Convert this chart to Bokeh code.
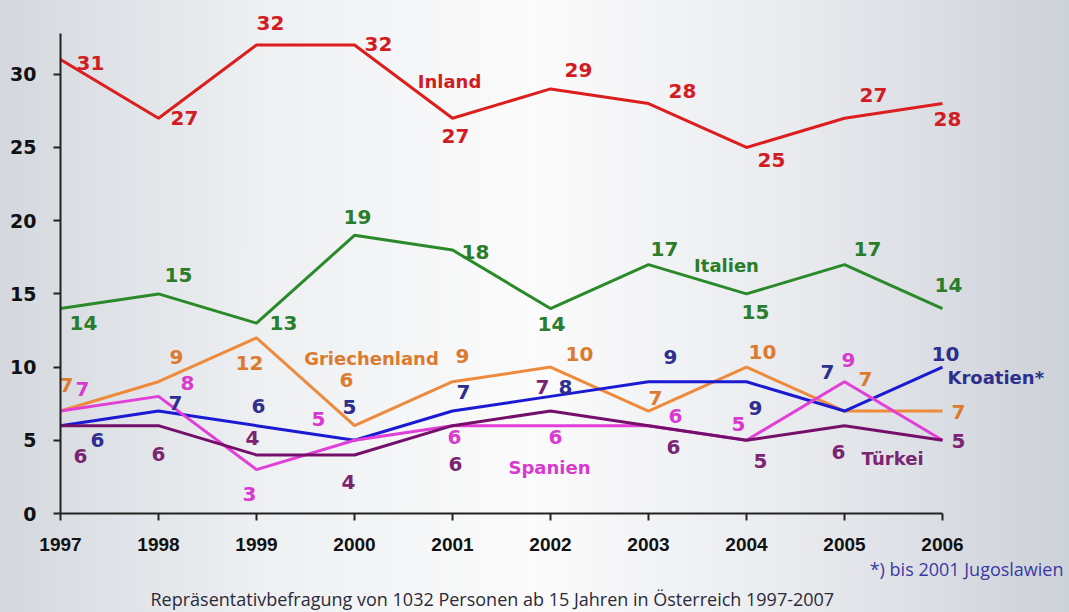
from bokeh.plotting import figure
from bokeh.models import ColumnDataSource, Range1d, FixedTicker, Title
from bokeh.core.properties import value
from bokeh.embed import file_html
from bokeh.resources import INLINE

# ---------------- data ----------------
years = [1997, 1998, 1999, 2000, 2001, 2002, 2003, 2004, 2005, 2006]
inland = [31, 27, 32, 32, 27, 29, 28, 25, 27, 28]
italien = [14, 15, 13, 19, 18, 14, 17, 15, 17, 14]
griechenland = [7, 9, 12, 6, 9, 10, 7, 10, 7, 7]
kroatien = [6, 7, 6, 5, 7, 8, 9, 9, 7, 10]
spanien = [7, 8, 3, 5, 6, 6, 6, 5, 9, 5]
tuerkei = [6, 6, 4, 4, 6, 7, 6, 5, 6, 5]
series_names = ["Inland", "Italien", "Griechenland", "Kroatien*", "Spanien", "Türkei"]
y_ticks = [0, 5, 10, 15, 20, 25, 30]
footnote = "*) bis 2001 Jugoslawien"
source_note = "Repräsentativbefragung von 1032 Personen ab 15 Jahren  in Österreich 1997-2007"

# ---------------- styles / label placement (pixels) ----------------
line_colors = ["#dc1e1e", "#2a8a2a", "#ee8a3c", "#1a1ad2", "#e23ed8", "#74106a"]
label_colors = ["#d21c24", "#2a7d2a", "#dc7a30", "#2e2e8e", "#d83ad0", "#7a2472"]
value_offsets = [
    [(30, 3), (26, 0), (14, -22), (24, -1), (3, 18), (28, -19), (34, -13), (25, 13), (29, -23), (5, 15)],
    [(23, 14), (20, -19), (27, 0), (3, -18), (23, 2), (1, 15), (16, -16), (9, 18), (23, -16), (6, -24)],
    [(6, -26), (18, -25), (-7, 25), (-8, -46), (10, -26), (29, -13), (7, -13), (16, -15), (21, -32), (16, 1)],
    [(37, 14), (17, -8), (2, -20), (-5, -33), (11, -19), (15, -9), (22, -25), (9, 26), (-17, -39), (3, -13)],
    [(22, -22), (29, -13), (-7, 24), (-36, -21), (2, 11), (5, 11), (27, -10), (-8, -16), (4, -22), None],
    [(20, 30), (0, 28), (-4, -17), (-6, 27), (3, 38), (-8, -24), (25, 21), (14, 21), (-6, 26), (16, 1)],
]
# series name: (anchor index, dx, dy, align)
name_places = [(4, -3, -37, "center"), (6, 78, 1, "center"), (4, -81, -23, "center"),
               (9, 5, 10, "left"), (5, -1, 42, "center"), (8, 48, 33, "center")]

all_series = [inland, italien, griechenland, kroatien, spanien, tuerkei]

p = figure(width=1069, height=612, output_backend="svg", toolbar_location=None,
           x_range=Range1d(1997, 2007.296), y_range=Range1d(0, 35.04),
           min_border_left=60, min_border_right=0, min_border_top=0, min_border_bottom=0,
           background_fill_alpha=0, border_fill_alpha=0, outline_line_color=None)
p.styles = {"background": "linear-gradient(to right, #d4d8de 0%, #eef0f2 25%, #fbfbfb 50%, #e8eaee 75%, #cdd1d8 100%)"}
p.xgrid.visible = False
p.ygrid.visible = False

for vals, lc in zip(all_series, line_colors):
    p.line(years, vals, line_color=lc, line_width=3)

for vals, offs, tc in zip(all_series, value_offsets, label_colors):
    xs, ys, ts, dxs, dys = [], [], [], [], []
    for yr, v, o in zip(years, vals, offs):
        if o is None:
            continue
        xs.append(yr); ys.append(v); ts.append(str(v)); dxs.append(o[0]); dys.append(o[1])
    src = ColumnDataSource(dict(x=xs, y=ys, t=ts, dx=dxs, dy=dys))
    p.text(x="x", y="y", text="t", x_offset="dx", y_offset="dy", source=src,
           text_font=value("DejaVu Sans"), text_font_style="bold", text_font_size="20px",
           text_color=tc, text_align="center", text_baseline="middle")

for name, vals, place, tc in zip(series_names, all_series, name_places, label_colors):
    i, dx, dy, al = place
    p.text(x=[years[i]], y=[vals[i]], text=[name], x_offset=dx, y_offset=dy,
           text_font=value("DejaVu Sans"), text_font_style="bold", text_font_size="18px",
           text_color=tc, text_align=al, text_baseline="middle")

for ax in (p.xaxis[0], p.yaxis[0]):
    ax.axis_line_color = "#222222"
    ax.axis_line_width = 2
    ax.major_tick_line_color = "#222222"
    ax.major_tick_line_width = 2
    ax.major_tick_out = 7
    ax.major_tick_in = 0
    ax.minor_tick_line_color = None
    ax.major_label_text_color = "#111111"
    ax.major_label_text_font_style = "bold"

p.yaxis.ticker = FixedTicker(ticks=y_ticks)
p.yaxis.bounds = (0, 32.8)
p.yaxis.major_label_text_font = "DejaVu Sans"
p.yaxis.major_label_text_font_size = "19px"
p.yaxis.major_label_standoff = 17

p.xaxis.ticker = FixedTicker(ticks=years)
p.xaxis.bounds = (years[0], years[-1])
p.xaxis.major_label_text_font = "Liberation Sans"
p.xaxis.major_label_text_font_size = "19px"
p.xaxis.major_label_standoff = 17

t1 = Title(text=footnote, align="right", offset=6, text_font="Open Sans", text_font_size="18px",
           text_font_style="normal", text_color="#3a3aa6", standoff=3)
t2 = Title(text=source_note, align="left", offset=90, text_font="Open Sans",
           text_font_size="18px", text_font_style="normal", text_color="#2a2a3a", standoff=4)
p.add_layout(t1, "below")
p.add_layout(t2, "below")

open("out.html", "w").write(file_html(p, INLINE))
